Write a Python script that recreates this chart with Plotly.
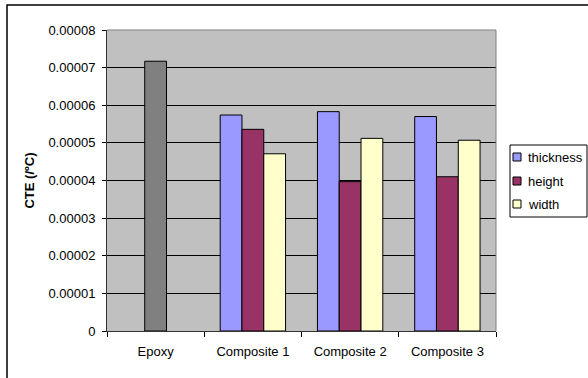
import plotly.graph_objects as go

categories = ["Epoxy", "Composite 1", "Composite 2", "Composite 3"]
epoxy_vals = [0.0000717, None, None, None]
thickness = [None, 0.0000574, 0.0000583, 0.0000570]
height = [None, 0.0000536, 0.0000397, 0.0000410]
width_vals = [None, 0.0000471, 0.0000512, 0.0000507]
series_names = ["thickness", "height", "width"]
series_colors = ["#9999FF", "#993366", "#FFFFCC"]
ytick_vals = [0, 0.00001, 0.00002, 0.00003, 0.00004, 0.00005, 0.00006, 0.00007, 0.00008]
ytick_text = ["0", "0.00001", "0.00002", "0.00003", "0.00004", "0.00005", "0.00006", "0.00007", "0.00008"]

FONT = "Arial, 'Liberation Sans', sans-serif"
BW = 0.224
line = dict(color="black", width=1)

fig = go.Figure()
fig.add_trace(go.Bar(x=categories, y=epoxy_vals, name="Epoxy", marker=dict(color="#808080", line=line),
                     width=BW, offset=-BW / 2))
for vals, nm, col, off in zip([thickness, height, width_vals], series_names, series_colors,
                              [-1.5 * BW, -0.5 * BW, 0.5 * BW]):
    fig.add_trace(go.Bar(x=categories, y=vals, name=nm, marker=dict(color=col, line=line),
                         width=BW, offset=off))

L, R, T, B = 107, 92, 30, 47
W, H = 588, 378
pw, ph = W - L - R, H - T - B

def px_x(p):
    return (p - L) / pw

def px_y(p):
    return (H - B - p) / ph

shapes = [
    dict(type="line", xref="paper", yref="paper", x0=0, x1=1, y0=1, y1=1,
         line=dict(color="#808080", width=1)),
    dict(type="line", xref="paper", yref="paper", x0=1, x1=1, y0=0, y1=1,
         line=dict(color="#808080", width=1)),
    dict(type="rect", xref="paper", yref="paper", x0=px_x(7), x1=px_x(620),
         y0=px_y(400), y1=px_y(5), line=dict(color="black", width=1.5)),
    # legend box
    dict(type="rect", xref="paper", yref="paper", x0=px_x(510), x1=px_x(587),
         y0=px_y(217), y1=px_y(145), line=dict(color="black", width=1), fillcolor="white"),
]
annotations = []
row_y = [157, 181, 204]
for nm, col, yy in zip(series_names, series_colors, row_y):
    shapes.append(dict(type="rect", xref="paper", yref="paper", x0=px_x(513), x1=px_x(521),
                       y0=px_y(yy + 4), y1=px_y(yy - 4), line=dict(color="black", width=1),
                       fillcolor=col))
    annotations.append(dict(text=nm, xref="paper", yref="paper", x=px_x(526), y=px_y(yy),
                            xanchor="left", yanchor="middle", showarrow=False,
                            font=dict(size=13, family=FONT, color="black")))

fig.update_layout(
    width=W, height=H, autosize=False,
    margin=dict(l=L, r=R, t=T, b=B, pad=0, autoexpand=False),
    barmode="overlay",
    showlegend=False,
    paper_bgcolor="white",
    plot_bgcolor="#C0C0C0",
    font=dict(family=FONT, size=13, color="black"),
    xaxis=dict(
        type="category", showgrid=False, showline=True, linecolor="#333333", linewidth=1,
        ticks="outside", tickson="boundaries", ticklen=5, tickcolor="black",
        ticklabelstandoff=8, tickfont=dict(size=13), zeroline=False,
    ),
    yaxis=dict(
        range=[0, 0.00008], tickvals=ytick_vals, ticktext=ytick_text,
        showgrid=True, gridcolor="black", gridwidth=1,
        showline=True, linecolor="#333333", linewidth=1, zeroline=False,
        ticks="outside", ticklen=4, tickcolor="black", ticklabelstandoff=4,
        tickfont=dict(size=13),
        title=dict(text="<b>CTE (/ºC)</b>", font=dict(size=13), standoff=10),
    ),
    shapes=shapes,
    annotations=annotations,
)

fig.write_html("out.html")
